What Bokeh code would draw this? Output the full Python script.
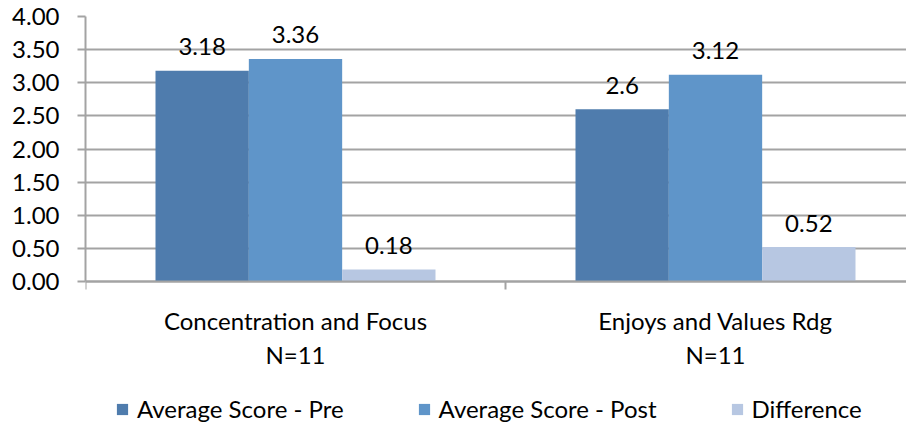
from bokeh.plotting import figure
from bokeh.models import (ColumnDataSource, Range1d, FixedTicker, Legend, LegendItem,
                          NumeralTickFormatter, LinearAxis)
from bokeh.transform import dodge
from bokeh.embed import file_html
from bokeh.resources import INLINE

# ---- data ----
categories = ["Concentration and Focus\nN=11", "Enjoys and Values Rdg\nN=11"]
series_names = ["Average Score - Pre", "Average Score - Post", "Difference"]
pre = [3.18, 2.6]
post = [3.36, 3.12]
diff = [0.18, 0.52]
pre_labels = ["3.18", "2.6"]
post_labels = ["3.36", "3.12"]
diff_labels = ["0.18", "0.52"]
y_ticks = [0, 0.5, 1.0, 1.5, 2.0, 2.5, 3.0, 3.5, 4.0]
y_max = 4

colors = ["#4f7cad", "#5f95c9", "#b7c7e2"]
FONT = "Lato"
FS = "24px"
GRAY = "#a3a3a3"

# group centres at 1, 3 (each group spans 2 units)
xs = [2 * i + 1 for i in range(len(categories))]
src = ColumnDataSource(dict(x=xs, pre=pre, post=post, diff=diff,
                            pre_l=pre_labels, post_l=post_labels, diff_l=diff_labels))

W, H = 906, 423
LEFT, TOP = 85, 16
PLOT_H = 265           # pixels from 0 to y_max
BELOW = H - TOP - PLOT_H  # room below the zero line for labels and legend
p = figure(width=W, height=H, output_backend="svg", toolbar_location=None,
           x_range=Range1d(0, 2 * (W - LEFT) / 420),
           y_range=Range1d(-BELOW * y_max / PLOT_H, y_max),
           x_axis_location=None,
           min_border_left=LEFT, min_border_right=0, min_border_top=TOP,
           min_border_bottom=0)
p.outline_line_color = None

bw = 2 / 4.5
cols = [("pre", "pre_l"), ("post", "post_l"), ("diff", "diff_l")]
renderers = []
for k, ((col, lcol), c) in enumerate(zip(cols, colors)):
    off = (k - 1) * bw
    r = p.vbar(x=dodge("x", off, range=p.x_range), top=col, width=bw, source=src,
               fill_color=c, line_color=None)
    renderers.append(r)
    p.text(x=dodge("x", off, range=p.x_range), y=col, text=lcol, source=src,
           text_align="center", text_baseline="alphabetic", y_offset=-24,
           text_font={"value": FONT}, text_font_size=FS, text_color="#000000")

# y axis
p.yaxis.ticker = FixedTicker(ticks=y_ticks)
p.yaxis.bounds = (0, y_max)
p.yaxis.formatter = NumeralTickFormatter(format="0.00")
p.yaxis.major_label_text_font = FONT
p.yaxis.major_label_text_font_size = FS
p.yaxis.major_label_text_color = "#000000"
p.yaxis.major_label_standoff = 18
p.yaxis.axis_line_color = GRAY
p.yaxis.axis_line_width = 2
p.yaxis.major_tick_line_color = GRAY
p.yaxis.major_tick_line_width = 2
p.yaxis.major_tick_in = 0
p.yaxis.major_tick_out = 8
p.yaxis.minor_tick_line_color = None

# x axis fixed at y = 0
xaxis = LinearAxis(fixed_location=0)
xaxis.ticker = FixedTicker(ticks=xs, minor_ticks=[0, 2, 4])
xaxis.major_label_overrides = {x: c for x, c in zip(xs, categories)}
xaxis.major_label_text_font = FONT
xaxis.major_label_text_font_size = FS
xaxis.major_label_text_color = "#000000"
xaxis.major_label_text_line_height = 1.2
xaxis.major_label_standoff = 16
xaxis.axis_line_color = GRAY
xaxis.axis_line_width = 2
xaxis.major_tick_line_color = None
xaxis.minor_tick_line_color = GRAY
xaxis.minor_tick_line_width = 2
xaxis.minor_tick_in = 0
xaxis.minor_tick_out = 8
p.add_layout(xaxis, "below")

p.xgrid.grid_line_color = None
p.ygrid.grid_line_color = GRAY
p.ygrid.grid_line_width = 2
p.ygrid.ticker = FixedTicker(ticks=y_ticks)

legend = Legend(items=[LegendItem(label=n, renderers=[r]) for n, r in zip(series_names, renderers)],
                orientation="horizontal", location=(30, 0),
                glyph_width=14, glyph_height=14, label_standoff=8,
                spacing=73, padding=0, margin=0,
                label_text_font=FONT, label_text_font_size=FS, label_text_color="#000000",
                border_line_color=None, background_fill_alpha=0)
p.add_layout(legend)

open("out.html", "w").write(file_html(p, INLINE))
